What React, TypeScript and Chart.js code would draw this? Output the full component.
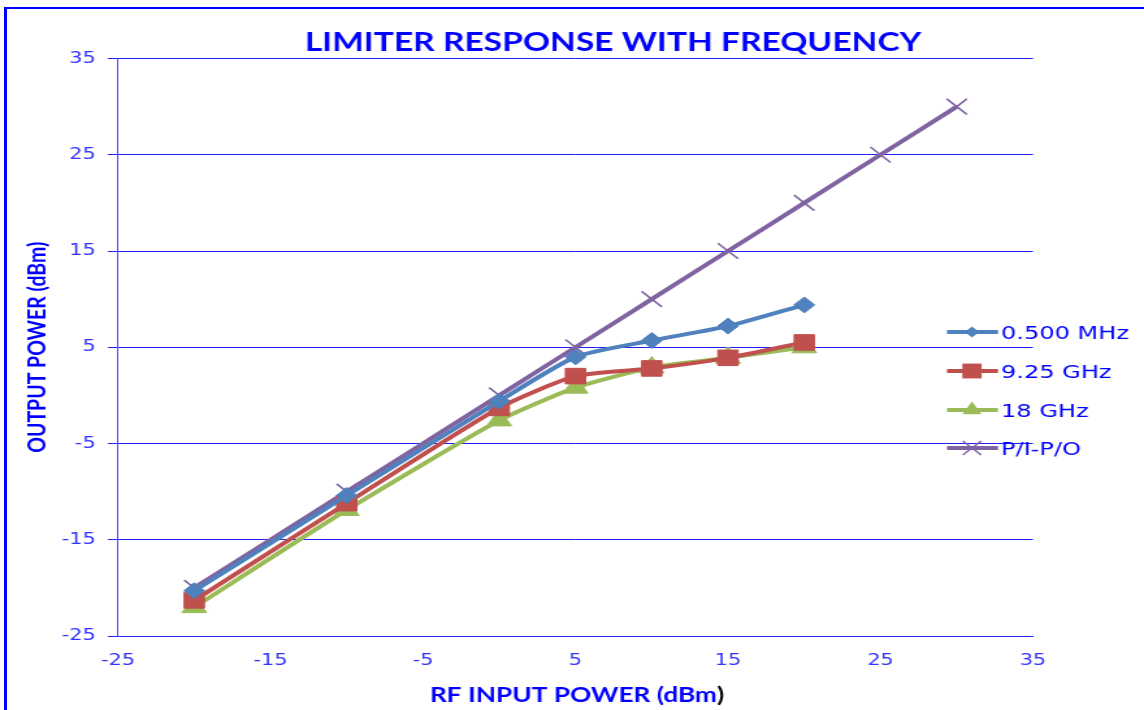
import React, { useEffect, useRef } from 'react';
import { Chart, registerables } from 'chart.js';

Chart.register(...registerables);

// ---------- data ----------
const chartTitle = 'LIMITER RESPONSE WITH FREQUENCY';
const xAxisTitle = 'RF INPUT POWER (dBm';
const xAxisTitleEnd = ')';
const yAxisTitle = 'OUTPUT POWER (dBm)';

const seriesNames = ['0.500 MHz', '9.25 GHz', '18 GHz', 'P/I-P/O'];
const inputPower = [-20, -10, 0, 5, 10, 15, 20];
const idealInput = [-20, -10, 0, 5, 10, 15, 20, 25, 30];
const out500MHz = [-20.3, -10.4, -0.6, 4.0, 5.7, 7.2, 9.4];
const out925GHz = [-21.3, -11.2, -1.3, 2.0, 2.8, 3.9, 5.5];
const out18GHz = [-22.0, -11.9, -2.6, 0.8, 2.9, 3.9, 5.0];
const outIdeal = [-20, -10, 0, 5, 10, 15, 20, 25, 30];

const axisMin = -25;
const axisMax = 35;
const axisStep = 10;

// ---------- layout (page pixels; canvas is stretched horizontally) ----------
const SX = 1.3;
const PAGE_W = 1144;
const PAGE_H = 710;
const IW = Math.round(PAGE_W / SX);
const AREA_LEFT = 118;
const AREA_RIGHT = 1033;
const AREA_TOP = 58.5;
const AREA_BOTTOM = 636;

const colors = ['#4F81BD', '#C0504D', '#9BBB59', '#8064A2'];
const styles = ['rectRot', 'rect', 'triangle', 'crossRot'];
const legendSizes = [5.5, 10.5, 8.5, 10];

function drawMarker(ctx: CanvasRenderingContext2D, style: string, x: number, y: number, r: number, color: string) {
  ctx.save();
  ctx.fillStyle = color;
  ctx.strokeStyle = color;
  ctx.beginPath();
  if (style === 'rectRot') {
    ctx.moveTo(x - r, y);
    ctx.lineTo(x, y - r);
    ctx.lineTo(x + r, y);
    ctx.lineTo(x, y + r);
    ctx.closePath();
    ctx.fill();
  } else if (style === 'rect') {
    const h = r * Math.SQRT1_2;
    ctx.rect(x - h, y - h, 2 * h, 2 * h);
    ctx.fill();
  } else if (style === 'triangle') {
    const a = (2 * Math.PI) / 3;
    ctx.moveTo(x, y - r);
    ctx.lineTo(x + Math.sin(a) * r, y - Math.cos(a) * r);
    ctx.lineTo(x + Math.sin(2 * a) * r, y - Math.cos(2 * a) * r);
    ctx.closePath();
    ctx.fill();
  } else {
    const o = r * Math.SQRT1_2;
    ctx.lineWidth = 1.5;
    ctx.moveTo(x - o, y - o);
    ctx.lineTo(x + o, y + o);
    ctx.moveTo(x + o, y - o);
    ctx.lineTo(x - o, y + o);
    ctx.stroke();
  }
  ctx.restore();
}

const decorPlugin = {
  id: 'decor',
  afterDraw(chart: any) {
    const ctx: CanvasRenderingContext2D = chart.ctx;
    ctx.save();
    // title
    ctx.fillStyle = '#0000ff';
    ctx.font = 'bold 25.8px Lato';
    ctx.textAlign = 'center';
    ctx.textBaseline = 'alphabetic';
    ctx.fillText(chartTitle, 613 / SX, 50.7);

    // x axis title (closing parenthesis is black in the original)
    ctx.font = 'bold 20.2px Lato';
    const w1 = ctx.measureText(xAxisTitle).width;
    const w2 = ctx.measureText(xAxisTitleEnd).width;
    const cx = 577 / SX;
    const start = cx - (w1 + w2) / 2;
    ctx.textAlign = 'left';
    ctx.fillStyle = '#0000ff';
    ctx.fillText(xAxisTitle, start, 701.5);
    ctx.fillStyle = '#000000';
    ctx.fillText(xAxisTitleEnd, start + w1, 701.5);

    // legend
    const rows = [332, 371, 410, 448];
    const x0 = 947 / SX;
    const x1 = 998 / SX;
    const mx = 972 / SX;
    const tx = 1001 / SX;
    chart.data.datasets.forEach((ds: any, i: number) => {
      const y = rows[i];
      ctx.strokeStyle = ds.borderColor;
      ctx.lineWidth = 4;
      ctx.beginPath();
      ctx.moveTo(x0, y);
      ctx.lineTo(x1, y);
      ctx.stroke();
      drawMarker(ctx, ds.pointStyle, mx, y, legendSizes[i], ds.borderColor);
      ctx.fillStyle = '#0000ff';
      ctx.font = '18.5px "DejaVu Sans"';
      ctx.textAlign = 'left';
      ctx.fillText(ds.label, tx, y + 6.5);
    });
    ctx.restore();
  },
};

export default function App() {
  const ref = useRef<HTMLCanvasElement | null>(null);

  useEffect(() => {
    const canvas = ref.current;
    if (!canvas) return;
    const toPts = (xs: number[], ys: number[]) => xs.map((x, i) => ({ x, y: ys[i] }));
    const seriesData = [
      toPts(inputPower, out500MHz),
      toPts(inputPower, out925GHz),
      toPts(inputPower, out18GHz),
      toPts(idealInput, outIdeal),
    ];
    const pointRadius = [8, 11, 11, 11];

    const chart = new Chart(canvas, {
      type: 'line',
      data: {
        datasets: seriesData.map((d, i) => ({
          label: seriesNames[i],
          data: d,
          borderColor: colors[i],
          backgroundColor: colors[i],
          pointBackgroundColor: colors[i],
          pointBorderColor: colors[i],
          pointBorderWidth: i === 3 ? 1.6 : 1,
          pointStyle: styles[i] as any,
          pointRadius: pointRadius[i],
          borderWidth: 4,
          tension: 0.2,
          fill: false,
        })),
      },
      plugins: [decorPlugin],
      options: {
        animation: false,
        responsive: false,
        devicePixelRatio: 1,
        layout: {
          padding: { left: 0, top: AREA_TOP, bottom: 0, right: IW - AREA_RIGHT / SX },
        },
        plugins: {
          legend: { display: false },
          title: { display: false },
          tooltip: { enabled: false },
        },
        scales: {
          x: {
            type: 'linear',
            min: axisMin,
            max: axisMax,
            afterFit: (s: any) => {
              s.height = PAGE_H - AREA_BOTTOM;
            },
            ticks: {
              stepSize: axisStep,
              color: '#3333ff',
              font: { family: '"DejaVu Sans"', size: 16 },
              padding: 15,
              maxRotation: 0,
            },
            grid: { display: false, drawTicks: false },
            border: { display: true, color: '#2a2aff', width: 1 },
          },
          y: {
            type: 'linear',
            min: axisMin,
            max: axisMax,
            afterFit: (s: any) => {
              s.width = AREA_LEFT / SX;
            },
            ticks: {
              stepSize: axisStep,
              color: '#3333ff',
              font: { family: '"DejaVu Sans"', size: 16 },
              padding: 9.5,
            },
            grid: {
              color: '#2020ff',
              lineWidth: 1,
              drawTicks: true,
              tickLength: 10 / SX,
              tickColor: '#2020ff',
            },
            border: { display: true, color: '#4a4aff', width: 1 },
            title: {
              display: true,
              text: yAxisTitle,
              color: '#0000ff',
              font: { family: 'Lato', weight: 'bold', size: 19.5 },
              padding: { top: 17.5, bottom: 0 },
            },
          },
        },
      },
    } as any);
    return () => chart.destroy();
  }, []);

  return (
    <>
      <div
        style={{
          position: 'fixed',
          left: 4,
          top: 7,
          width: 1300,
          height: 900,
          borderLeft: '3px solid #0000ff',
          borderTop: '2px solid #0000ff',
          boxSizing: 'border-box',
        }}
      />
      <canvas
        ref={ref}
        width={IW}
        height={PAGE_H}
        style={{
          position: 'fixed',
          left: 0,
          top: 0,
          width: IW + 'px',
          height: PAGE_H + 'px',
          transform: `scaleX(${SX})`,
          transformOrigin: '0 0',
        }}
      />
    </>
  );
}
